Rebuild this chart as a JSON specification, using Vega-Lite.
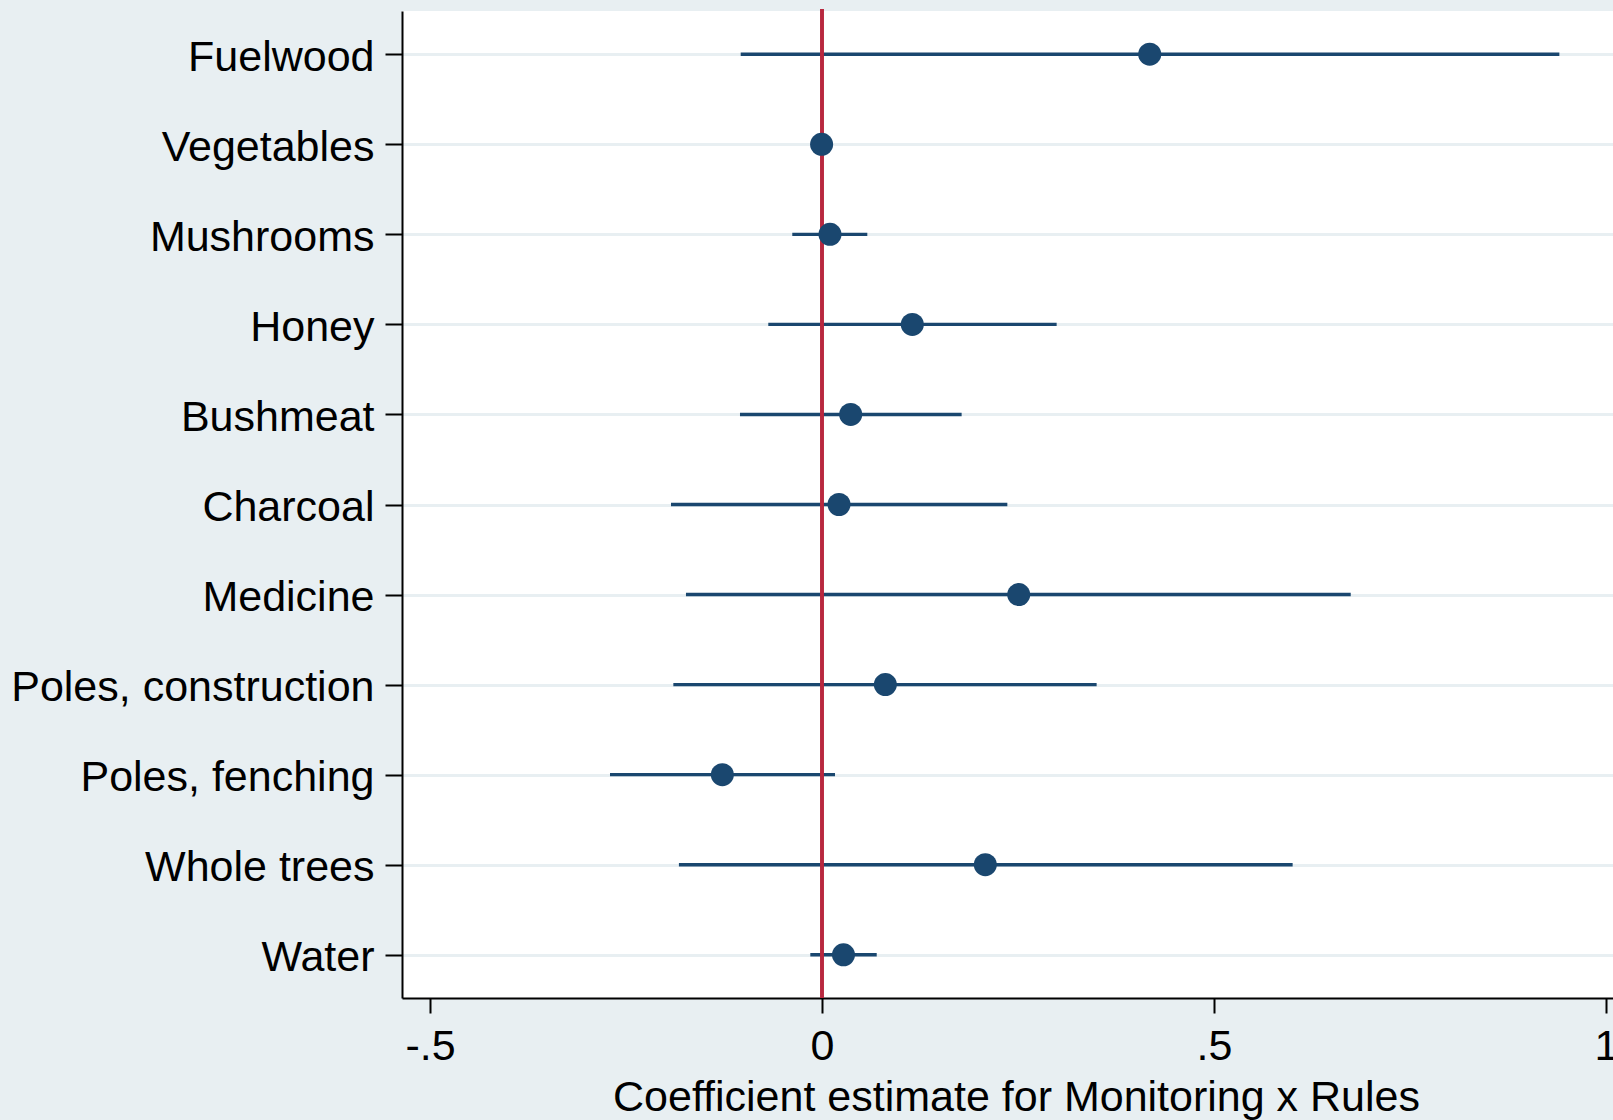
{
  "$schema": "https://vega.github.io/schema/vega-lite/v6.json",
  "autosize": {"type": "none"},
  "padding": {"left": 402, "top": 11, "right": 0, "bottom": 122},
  "width": 1228,
  "height": 987,
  "background": "#e8eff2",
  "config": {
    "view": {"fill": "white", "stroke": null},
    "font": "Liberation Sans",
    "axis": {"labelFont": "Liberation Sans", "titleFont": "Liberation Sans", "labelColor": "black", "titleColor": "black", "labelLimit": 0}
  },
  "data": {
    "values": [
      {"item": "Fuelwood", "est": 0.418, "lo": -0.1037, "hi": 0.9405},
      {"item": "Vegetables", "est": -0.0005, "lo": -0.004, "hi": 0.003},
      {"item": "Mushrooms", "est": 0.0102, "lo": -0.0379, "hi": 0.0578},
      {"item": "Honey", "est": 0.1152, "lo": -0.0685, "hi": 0.2993},
      {"item": "Bushmeat", "est": 0.0366, "lo": -0.1046, "hi": 0.1781},
      {"item": "Charcoal", "est": 0.0217, "lo": -0.1926, "hi": 0.2364},
      {"item": "Medicine", "est": 0.2509, "lo": -0.1735, "hi": 0.6744},
      {"item": "Poles, construction", "est": 0.0808, "lo": -0.1896, "hi": 0.3503},
      {"item": "Poles, fenching", "est": -0.1271, "lo": -0.2704, "hi": 0.0166},
      {"item": "Whole trees", "est": 0.2083, "lo": -0.1825, "hi": 0.6003},
      {"item": "Water", "est": 0.0274, "lo": -0.0149, "hi": 0.0698}
    ]
  },
  "encoding": {
    "y": {
      "field": "item",
      "type": "nominal",
      "sort": null,
      "scale": {"type": "point", "padding": 0.48},
      "axis": {
        "title": null,
        "labelFontSize": 43,
        "labelLimit": 0,
        "labelOffset": 3,
        "tickSize": 17,
        "tickWidth": 2,
        "tickColor": "black",
        "domainColor": "black",
        "domainWidth": 2,
        "labelPadding": 11,
        "grid": true,
        "gridColor": "#e8eff2",
        "gridWidth": 3
      }
    }
  },
  "layer": [
    {
      "mark": {"type": "rule", "color": "#1a476f", "strokeWidth": 3.4},
      "encoding": {
        "x": {
          "field": "lo",
          "type": "quantitative",
          "scale": {"domain": [-0.5357, 1.0306], "nice": false, "zero": false},
          "axis": {
            "values": [-0.5, 0, 0.5, 1],
            "labelExpr": "datum.value == -0.5 ? '-.5' : datum.value == 0 ? '0' : datum.value == 0.5 ? '.5' : '1'",
            "title": "Coefficient estimate for Monitoring x Rules",
            "titleFontSize": 43,
            "titleFontWeight": "normal",
            "labelFontSize": 43,
            "tickSize": 15,
            "tickWidth": 2,
            "tickColor": "black",
            "domainColor": "black",
            "domainWidth": 2,
            "labelPadding": 12,
            "titlePadding": 8,
            "grid": false,
            "labelFlush": false
          }
        },
        "x2": {"field": "hi"}
      }
    },
    {
      "mark": {"type": "rule", "color": "#b8283f", "strokeWidth": 2.5},
      "encoding": {"x": {"datum": 0, "type": "quantitative"}, "y": {"value": -2}, "y2": {"value": 987}}
    },
    {
      "mark": {"type": "circle", "color": "#1a476f", "opacity": 1, "size": 530},
      "encoding": {"x": {"field": "est", "type": "quantitative"}}
    }
  ]
}
